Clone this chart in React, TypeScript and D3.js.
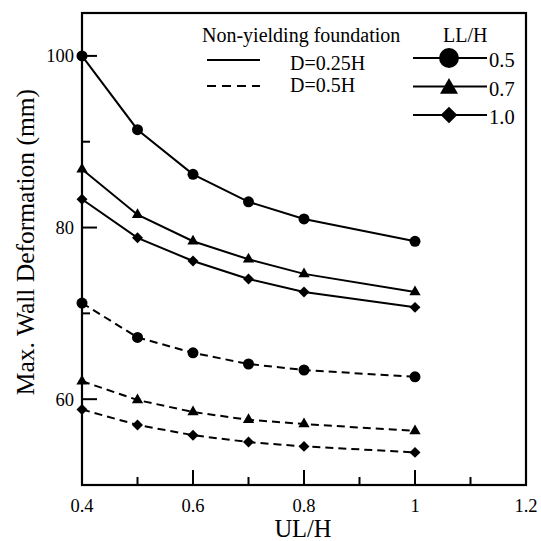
import * as d3 from "d3";

// UL/H values on the x axis
const ulh = [0.4, 0.5, 0.6, 0.7, 0.8, 1.0];

// D = 0.25H (solid)
const solidLL05 = [100, 91.4, 86.2, 83.0, 81.0, 78.4];
const solidLL07 = [86.8, 81.5, 78.4, 76.3, 74.6, 72.5];
const solidLL10 = [83.3, 78.8, 76.1, 74.0, 72.5, 70.7];

// D = 0.5H (dashed)
const dashLL05 = [71.2, 67.2, 65.4, 64.1, 63.4, 62.6];
const dashLL07 = [62.1, 59.9, 58.5, 57.6, 57.1, 56.3];
const dashLL10 = [58.8, 57.0, 55.8, 55.0, 54.5, 53.8];

const xTicks = [0.4, 0.6, 0.8, 1.0, 1.2];
const xMinor = [0.5, 0.7, 0.9, 1.1];
const yTicks = [60, 80, 100];
const yMinor = [70, 90];

const llLabels = ["0.5", "0.7", "1.0"];
const depthLabels = ["D=0.25H", "D=0.5H"];

const W = 541, H = 541;
const left = 82, right = 526, top = 13, bottom = 485;
const FONT = "'Liberation Serif', 'Times New Roman', serif";

const x = d3.scaleLinear().domain([0.4, 1.2]).range([left, right]);
const y = d3.scaleLinear().domain([50, 105]).range([bottom, top]);

const series = [
  { vals: solidLL05, shape: "circle", dashed: false },
  { vals: solidLL07, shape: "triangle", dashed: false },
  { vals: solidLL10, shape: "diamond", dashed: false },
  { vals: dashLL05, shape: "circle", dashed: true },
  { vals: dashLL07, shape: "triangle", dashed: true },
  { vals: dashLL10, shape: "diamond", dashed: true },
];

const symbolPath = (shape: string, big: boolean) => {
  if (shape === "circle") return d3.symbol().type(d3.symbolCircle).size(big ? 310 : 95)()!;
  if (shape === "triangle") return d3.symbol().type(d3.symbolTriangle).size(big ? 140 : 55)()!;
  return d3.symbol().type(d3.symbolSquare).size(big ? 140 : 60)()!;
};

const Marker = ({ shape, cx, cy, big }: { shape: string; cx: number; cy: number; big?: boolean }) => (
  <path
    d={symbolPath(shape, !!big)}
    transform={`translate(${cx},${cy})${shape === "diamond" ? " rotate(45)" : ""}`}
    fill="#000"
  />
);

export default function App() {
  const line = d3
    .line<number>()
    .x((_, i) => x(ulh[i]))
    .y((d) => y(d));

  return (
    <svg width={W} height={H} style={{ position: "absolute", left: 0, top: 0, background: "#fff" }} fontFamily={FONT}>
      {/* frame */}
      <rect x={left} y={top} width={right - left} height={bottom - top} fill="none" stroke="#000" strokeWidth={2.2} />

      {/* x ticks (inside) */}
      {xTicks.map((t) => (
        <g key={"xt" + t}>
          <line x1={x(t)} x2={x(t)} y1={bottom} y2={bottom - 15} stroke="#000" strokeWidth={2} />
          <text x={x(t)} y={512} fontSize={18.5} textAnchor="middle">
            {d3.format("")(t)}
          </text>
        </g>
      ))}
      {xMinor.map((t) => (
        <line key={"xm" + t} x1={x(t)} x2={x(t)} y1={bottom} y2={bottom - 8} stroke="#000" strokeWidth={2} />
      ))}

      {/* y ticks (inside) */}
      {yTicks.map((t) => (
        <g key={"yt" + t}>
          <line x1={left} x2={left + 15} y1={y(t)} y2={y(t)} stroke="#000" strokeWidth={2} />
          <text x={74} y={y(t) + 6.5} fontSize={18.5} textAnchor="end">
            {t}
          </text>
        </g>
      ))}
      {yMinor.map((t) => (
        <line key={"ym" + t} x1={left} x2={left + 8} y1={y(t)} y2={y(t)} stroke="#000" strokeWidth={2} />
      ))}

      {/* axis titles */}
      <text x={303} y={537} fontSize={24.5} textAnchor="middle">
        UL/H
      </text>
      <text transform={`translate(34,242) rotate(-90)`} fontSize={25.5} textAnchor="middle">
        Max. Wall Deformation (mm)
      </text>

      {/* series */}
      {series.map((s, i) => (
        <g key={"s" + i}>
          <path
            d={line(s.vals)!}
            fill="none"
            stroke="#000"
            strokeWidth={2}
            strokeDasharray={s.dashed ? "8,5" : undefined}
          />
          {s.vals.map((v, j) => (
            <Marker key={j} shape={s.shape} cx={x(ulh[j])} cy={y(v)} />
          ))}
        </g>
      ))}

      {/* legend: line style */}
      <text x={202} y={42} fontSize={20} fill="#000">
        Non-yielding foundation
      </text>
      {depthLabels.map((lab, i) => (
        <g key={lab}>
          <line
            x1={207}
            x2={260}
            y1={60 + i * 26}
            y2={60 + i * 26}
            stroke="#000"
            strokeWidth={2}
            strokeDasharray={i === 1 ? "9,6" : undefined}
          />
          <text x={290} y={70 + i * 22} fontSize={20}>
            {lab}
          </text>
        </g>
      ))}

      {/* legend: LL/H markers */}
      <text x={443} y={42} fontSize={20}>
        LL/H
      </text>
      {llLabels.map((lab, i) => {
        const ly = 58 + i * 28.5;
        const shape = ["circle", "triangle", "diamond"][i];
        return (
          <g key={lab}>
            <line x1={413} x2={487} y1={ly} y2={ly} stroke="#000" strokeWidth={2} />
            <Marker shape={shape} cx={449} cy={ly + (shape === "triangle" ? 2 : 0)} big />
            <text x={489} y={ly + 9} fontSize={20.5}>
              {lab}
            </text>
          </g>
        );
      })}
    </svg>
  );
}
